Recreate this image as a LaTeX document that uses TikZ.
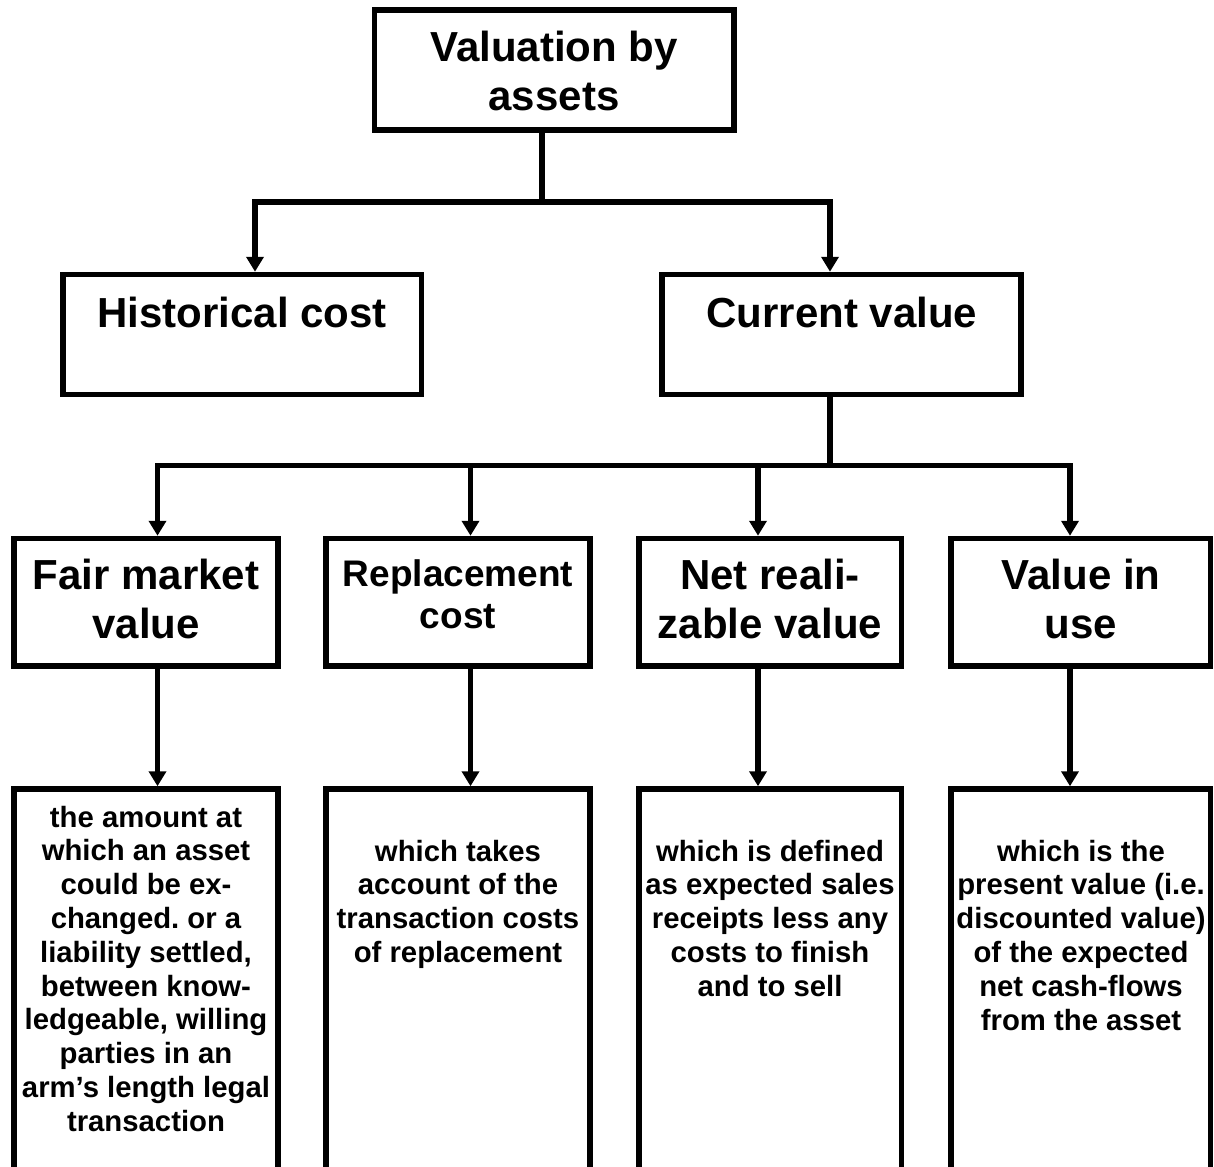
\documentclass[tikz,border=0pt]{standalone}
\usepackage{fontspec}
\setmainfont{Liberation Sans}
\usetikzlibrary{arrows.meta}
\frenchspacing
\tikzset{
  box/.style={draw, rectangle, line width=5.5pt, inner sep=0pt},
  conn/.style={line width=5.5pt, line join=miter},
  arr/.style={conn, -{Triangle[width=17pt,length=15pt]}},
  txt/.style={anchor=base, inner sep=0pt},
  hfont/.style={txt, font=\bfseries\fontsize{42}{48.5}\selectfont},
  mfont/.style={txt, font=\bfseries\fontsize{42}{49.5}\selectfont},
  rfont/.style={txt, font=\bfseries\fontsize{37}{42.5}\selectfont},
  bfont/.style={txt, font=\bfseries\fontsize{29.3}{33.8}\selectfont},
}
\newcommand{\lines}[1]{\begin{tabular}[t]{@{}c@{}}#1\end{tabular}}
\begin{document}
\frenchspacing
\begin{tikzpicture}[x=1pt, y=-1pt]
  \useasboundingbox (0,0) rectangle (1214,1166);
  \fill[white] (0,0) rectangle (1214,1166);
  \clip (0,0) rectangle (1214,1166);

  % boxes
  \node[box, minimum width=359.5pt, minimum height=120pt] (top) at (554.25,70) {};
  \node[box, minimum width=358.5pt, minimum height=120pt] (hist) at (242.25,334.5) {};
  \node[box, minimum width=359pt, minimum height=120pt] (cur) at (841.5,334.5) {};

  \node[box, minimum width=264pt, minimum height=127.5pt] (b1) at (146,602.25) {};
  \node[box, minimum width=264pt, minimum height=127.5pt] (b2) at (458,602.25) {};
  \node[box, minimum width=262.5pt, minimum height=127.5pt] (b3) at (770.25,602.25) {};
  \node[box, minimum width=259.5pt, minimum height=127.5pt] (b4) at (1080.75,602.25) {};

  \node[box, minimum width=264pt, minimum height=411pt] (c1) at (146,994.5) {};
  \node[box, minimum width=264pt, minimum height=411pt] (c2) at (458,994.5) {};
  \node[box, minimum width=262.5pt, minimum height=411pt] (c3) at (770.25,994.5) {};
  \node[box, minimum width=259.5pt, minimum height=411pt] (c4) at (1080.75,994.5) {};

  % texts
  \node[hfont] (ttop) at (554,62) {\lines{Valuation by\\assets}};
  \node[hfont] (thist) at (242,327) {Historical cost};
  \node[hfont] (tcur) at (842,327) {Current value};

  \node[mfont] (tb1) at (146,589) {\lines{Fair market\\value}};
  \node[rfont] (tb2) at (458,586) {\lines{Replacement\\cost}};
  \node[mfont] (tb3) at (770,589) {\lines{Net reali-\\zable value}};
  \node[mfont] (tb4) at (1081,589) {\lines{Value in\\use}};

  \node[bfont] (tc1) at (146,827) {\lines{the amount at\\which an asset\\could be ex-\\changed. or a\\liability settled,\\between know-\\ledgeable, willing\\parties in an\\arm’s length legal\\transaction}};
  \node[bfont] (tc2) at (458,861) {\lines{which takes\\account of the\\transaction costs\\of replacement}};
  \node[bfont] (tc3) at (770,861) {\lines{which is defined\\as expected sales\\receipts less any\\costs to finish\\and to sell}};
  \node[bfont] (tc4) at (1081,861) {\lines{which is the\\present value (i.e.\\discounted value)\\of the expected\\net cash-flows\\from the asset}};

  % junction coordinates
  \coordinate (j1) at (542,202);
  \coordinate (hL) at (255,202);
  \coordinate (hR) at (830,202);
  \coordinate (j2) at (830,465.5);
  \coordinate (a1) at (157.5,465.5);
  \coordinate (a2) at (470.5,465.5);
  \coordinate (a3) at (758,465.5);
  \coordinate (a4) at (1070,465.5);

  % connectors level 1
  \draw[conn] (top.south -| j1) -- (j1);
  \draw[arr] (j1) -- (hL) -- (hL |- hist.north);
  \draw[arr] (j1) -- (hR) -- (hR |- cur.north);

  % connectors level 2
  \draw[conn] (cur.south -| j2) -- (j2);
  \draw[arr] (j2) -- (a1) -- (a1 |- b1.north);
  \draw[arr] (j2) -- (a2) -- (a2 |- b2.north);
  \draw[arr] (j2) -- (a3) -- (a3 |- b3.north);
  \draw[arr] (j2) -- (a4) -- (a4 |- b4.north);

  % connectors level 3
  \draw[arr] (b1.south -| a1) -- (a1 |- c1.north);
  \draw[arr] (b2.south -| a2) -- (a2 |- c2.north);
  \draw[arr] (b3.south -| a3) -- (a3 |- c3.north);
  \draw[arr] (b4.south -| a4) -- (a4 |- c4.north);
\end{tikzpicture}
\end{document}
